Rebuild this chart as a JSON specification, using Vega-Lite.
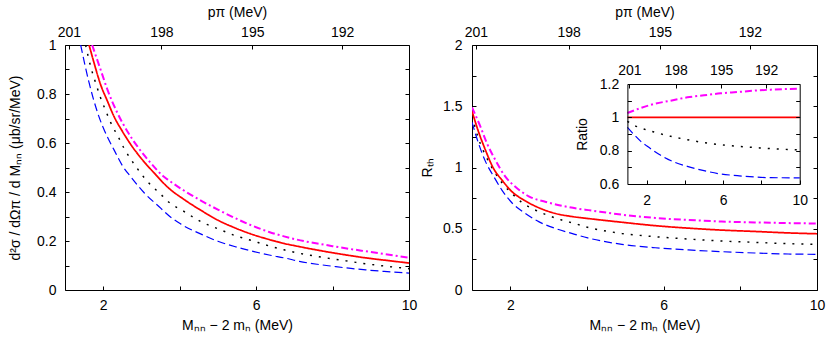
{
  "$schema": "https://vega.github.io/schema/vega-lite/v6.json",
  "padding": {"left": 8, "top": 5, "right": 5, "bottom": 5},
  "background": "white",
  "bounds": "flush",
  "spacing": 63,
  "config": {
    "view": {"stroke": null},
    "font": "Liberation Sans",
    "axis": {
      "grid": false, "domainColor": "black", "tickColor": "black", "labelColor": "black", "titleColor": "black",
      "labelFont": "Liberation Sans", "titleFont": "Liberation Sans", "labelFontSize": 14, "titleFontSize": 14,
      "titleFontWeight": "normal", "tickSize": -4, "domainWidth": 1, "tickWidth": 1, "labelFlush": false, "labelOverlap": false
    }
  },
  "datasets": {
    "left": [
      {"M": 1.41, "v": 1.0, "s": "s1"}, {"M": 1.63, "v": 0.846, "s": "s1"}, {"M": 1.85, "v": 0.725, "s": "s1"}, {"M": 2.11, "v": 0.624, "s": "s1"}, {"M": 2.28, "v": 0.573, "s": "s1"}, {"M": 2.5, "v": 0.508, "s": "s1"}, {"M": 2.72, "v": 0.462, "s": "s1"}, {"M": 3.07, "v": 0.397, "s": "s1"}, {"M": 3.51, "v": 0.333, "s": "s1"}, {"M": 3.72, "v": 0.303, "s": "s1"}, {"M": 4.0, "v": 0.272, "s": "s1"}, {"M": 4.59, "v": 0.226, "s": "s1"}, {"M": 5.0, "v": 0.199, "s": "s1"}, {"M": 5.47, "v": 0.176, "s": "s1"}, {"M": 5.86, "v": 0.16, "s": "s1"}, {"M": 6.34, "v": 0.143, "s": "s1"}, {"M": 6.8, "v": 0.129, "s": "s1"}, {"M": 7.13, "v": 0.117, "s": "s1"}, {"M": 7.6, "v": 0.105, "s": "s1"}, {"M": 8.0, "v": 0.097, "s": "s1"}, {"M": 8.48, "v": 0.088, "s": "s1"}, {"M": 8.87, "v": 0.082, "s": "s1"}, {"M": 9.35, "v": 0.076, "s": "s1"}, {"M": 10.0, "v": 0.069, "s": "s1"},
      {"M": 1.54, "v": 1.0, "s": "s2"}, {"M": 1.67, "v": 0.913, "s": "s2"}, {"M": 1.8, "v": 0.846, "s": "s2"}, {"M": 1.93, "v": 0.785, "s": "s2"}, {"M": 2.07, "v": 0.73, "s": "s2"}, {"M": 2.2, "v": 0.682, "s": "s2"}, {"M": 2.41, "v": 0.62, "s": "s2"}, {"M": 2.54, "v": 0.58, "s": "s2"}, {"M": 2.85, "v": 0.505, "s": "s2"}, {"M": 3.15, "v": 0.444, "s": "s2"}, {"M": 3.51, "v": 0.39, "s": "s2"}, {"M": 3.72, "v": 0.358, "s": "s2"}, {"M": 4.12, "v": 0.32, "s": "s2"}, {"M": 4.59, "v": 0.276, "s": "s2"}, {"M": 5.0, "v": 0.25, "s": "s2"}, {"M": 5.47, "v": 0.221, "s": "s2"}, {"M": 5.86, "v": 0.203, "s": "s2"}, {"M": 6.34, "v": 0.18, "s": "s2"}, {"M": 6.73, "v": 0.164, "s": "s2"}, {"M": 7.13, "v": 0.15, "s": "s2"}, {"M": 7.6, "v": 0.137, "s": "s2"}, {"M": 8.0, "v": 0.127, "s": "s2"}, {"M": 8.48, "v": 0.116, "s": "s2"}, {"M": 8.87, "v": 0.107, "s": "s2"}, {"M": 9.35, "v": 0.098, "s": "s2"}, {"M": 10.0, "v": 0.087, "s": "s2"},
      {"M": 1.63, "v": 1.0, "s": "s3"}, {"M": 1.76, "v": 0.927, "s": "s3"}, {"M": 1.93, "v": 0.839, "s": "s3"}, {"M": 2.11, "v": 0.771, "s": "s3"}, {"M": 2.28, "v": 0.709, "s": "s3"}, {"M": 2.5, "v": 0.648, "s": "s3"}, {"M": 2.72, "v": 0.594, "s": "s3"}, {"M": 2.98, "v": 0.54, "s": "s3"}, {"M": 3.33, "v": 0.478, "s": "s3"}, {"M": 3.72, "v": 0.415, "s": "s3"}, {"M": 4.12, "v": 0.369, "s": "s3"}, {"M": 4.59, "v": 0.322, "s": "s3"}, {"M": 5.0, "v": 0.285, "s": "s3"}, {"M": 5.47, "v": 0.252, "s": "s3"}, {"M": 5.86, "v": 0.229, "s": "s3"}, {"M": 6.34, "v": 0.206, "s": "s3"}, {"M": 6.73, "v": 0.19, "s": "s3"}, {"M": 7.13, "v": 0.177, "s": "s3"}, {"M": 7.6, "v": 0.163, "s": "s3"}, {"M": 8.0, "v": 0.152, "s": "s3"}, {"M": 8.48, "v": 0.14, "s": "s3"}, {"M": 8.87, "v": 0.131, "s": "s3"}, {"M": 9.35, "v": 0.122, "s": "s3"}, {"M": 10.0, "v": 0.11, "s": "s3"},
      {"M": 1.71, "v": 1.0, "s": "s4"}, {"M": 1.93, "v": 0.9, "s": "s4"}, {"M": 2.11, "v": 0.818, "s": "s4"}, {"M": 2.37, "v": 0.723, "s": "s4"}, {"M": 2.63, "v": 0.648, "s": "s4"}, {"M": 2.89, "v": 0.587, "s": "s4"}, {"M": 3.24, "v": 0.519, "s": "s4"}, {"M": 3.59, "v": 0.462, "s": "s4"}, {"M": 3.72, "v": 0.447, "s": "s4"}, {"M": 4.12, "v": 0.405, "s": "s4"}, {"M": 4.59, "v": 0.362, "s": "s4"}, {"M": 5.0, "v": 0.328, "s": "s4"}, {"M": 5.47, "v": 0.292, "s": "s4"}, {"M": 5.86, "v": 0.265, "s": "s4"}, {"M": 6.34, "v": 0.237, "s": "s4"}, {"M": 6.73, "v": 0.219, "s": "s4"}, {"M": 7.3, "v": 0.198, "s": "s4"}, {"M": 7.6, "v": 0.19, "s": "s4"}, {"M": 8.0, "v": 0.179, "s": "s4"}, {"M": 8.48, "v": 0.167, "s": "s4"}, {"M": 8.87, "v": 0.158, "s": "s4"}, {"M": 9.35, "v": 0.147, "s": "s4"}, {"M": 10.0, "v": 0.132, "s": "s4"}
    ],
    "right": [
      {"M": 1.0, "v": 1.37, "s": "s1"}, {"M": 1.17, "v": 1.197, "s": "s1"}, {"M": 1.35, "v": 1.05, "s": "s1"}, {"M": 1.56, "v": 0.93, "s": "s1"}, {"M": 1.78, "v": 0.816, "s": "s1"}, {"M": 2.04, "v": 0.712, "s": "s1"}, {"M": 2.39, "v": 0.626, "s": "s1"}, {"M": 2.74, "v": 0.558, "s": "s1"}, {"M": 3.17, "v": 0.503, "s": "s1"}, {"M": 3.6, "v": 0.462, "s": "s1"}, {"M": 4.02, "v": 0.425, "s": "s1"}, {"M": 4.91, "v": 0.373, "s": "s1"}, {"M": 5.78, "v": 0.345, "s": "s1"}, {"M": 6.64, "v": 0.327, "s": "s1"}, {"M": 7.51, "v": 0.313, "s": "s1"}, {"M": 8.38, "v": 0.302, "s": "s1"}, {"M": 9.25, "v": 0.294, "s": "s1"}, {"M": 10.0, "v": 0.291, "s": "s1"},
      {"M": 1.0, "v": 1.42, "s": "s2"}, {"M": 1.17, "v": 1.235, "s": "s2"}, {"M": 1.39, "v": 1.075, "s": "s2"}, {"M": 1.61, "v": 0.952, "s": "s2"}, {"M": 1.83, "v": 0.857, "s": "s2"}, {"M": 2.04, "v": 0.789, "s": "s2"}, {"M": 2.3, "v": 0.715, "s": "s2"}, {"M": 2.65, "v": 0.653, "s": "s2"}, {"M": 3.0, "v": 0.607, "s": "s2"}, {"M": 3.34, "v": 0.571, "s": "s2"}, {"M": 3.69, "v": 0.542, "s": "s2"}, {"M": 4.04, "v": 0.51, "s": "s2"}, {"M": 4.91, "v": 0.462, "s": "s2"}, {"M": 5.78, "v": 0.435, "s": "s2"}, {"M": 6.64, "v": 0.416, "s": "s2"}, {"M": 7.51, "v": 0.4, "s": "s2"}, {"M": 8.38, "v": 0.389, "s": "s2"}, {"M": 9.25, "v": 0.378, "s": "s2"}, {"M": 10.0, "v": 0.373, "s": "s2"},
      {"M": 1.0, "v": 1.46, "s": "s3"}, {"M": 1.17, "v": 1.292, "s": "s3"}, {"M": 1.35, "v": 1.143, "s": "s3"}, {"M": 1.56, "v": 0.993, "s": "s3"}, {"M": 1.78, "v": 0.898, "s": "s3"}, {"M": 2.04, "v": 0.803, "s": "s3"}, {"M": 2.35, "v": 0.735, "s": "s3"}, {"M": 2.74, "v": 0.672, "s": "s3"}, {"M": 3.17, "v": 0.625, "s": "s3"}, {"M": 3.6, "v": 0.6, "s": "s3"}, {"M": 4.04, "v": 0.583, "s": "s3"}, {"M": 4.91, "v": 0.553, "s": "s3"}, {"M": 5.78, "v": 0.525, "s": "s3"}, {"M": 6.64, "v": 0.505, "s": "s3"}, {"M": 7.51, "v": 0.489, "s": "s3"}, {"M": 8.38, "v": 0.478, "s": "s3"}, {"M": 9.25, "v": 0.466, "s": "s3"}, {"M": 10.0, "v": 0.459, "s": "s3"},
      {"M": 1.0, "v": 1.49, "s": "s4"}, {"M": 1.22, "v": 1.333, "s": "s4"}, {"M": 1.39, "v": 1.197, "s": "s4"}, {"M": 1.61, "v": 1.061, "s": "s4"}, {"M": 1.87, "v": 0.925, "s": "s4"}, {"M": 2.13, "v": 0.843, "s": "s4"}, {"M": 2.48, "v": 0.765, "s": "s4"}, {"M": 2.91, "v": 0.72, "s": "s4"}, {"M": 3.34, "v": 0.688, "s": "s4"}, {"M": 3.78, "v": 0.663, "s": "s4"}, {"M": 4.04, "v": 0.652, "s": "s4"}, {"M": 4.91, "v": 0.615, "s": "s4"}, {"M": 5.78, "v": 0.588, "s": "s4"}, {"M": 6.64, "v": 0.572, "s": "s4"}, {"M": 7.51, "v": 0.559, "s": "s4"}, {"M": 8.38, "v": 0.552, "s": "s4"}, {"M": 9.25, "v": 0.546, "s": "s4"}, {"M": 10.0, "v": 0.543, "s": "s4"}
    ],
    "ratio": [
      {"M": 1.0, "v": 0.94, "s": "s1"}, {"M": 1.35, "v": 0.896, "s": "s1"}, {"M": 1.7, "v": 0.856, "s": "s1"}, {"M": 2.04, "v": 0.826, "s": "s1"}, {"M": 2.74, "v": 0.772, "s": "s1"}, {"M": 3.43, "v": 0.732, "s": "s1"}, {"M": 4.13, "v": 0.706, "s": "s1"}, {"M": 5.0, "v": 0.68, "s": "s1"}, {"M": 5.87, "v": 0.66, "s": "s1"}, {"M": 6.75, "v": 0.65, "s": "s1"}, {"M": 7.62, "v": 0.642, "s": "s1"}, {"M": 8.49, "v": 0.638, "s": "s1"}, {"M": 10.0, "v": 0.637, "s": "s1"},
      {"M": 1.0, "v": 0.976, "s": "s2"}, {"M": 1.35, "v": 0.952, "s": "s2"}, {"M": 1.7, "v": 0.936, "s": "s2"}, {"M": 2.39, "v": 0.912, "s": "s2"}, {"M": 3.26, "v": 0.886, "s": "s2"}, {"M": 4.13, "v": 0.866, "s": "s2"}, {"M": 5.0, "v": 0.848, "s": "s2"}, {"M": 5.87, "v": 0.836, "s": "s2"}, {"M": 6.75, "v": 0.826, "s": "s2"}, {"M": 7.62, "v": 0.819, "s": "s2"}, {"M": 8.49, "v": 0.812, "s": "s2"}, {"M": 10.0, "v": 0.805, "s": "s2"},
      {"M": 1.0, "v": 1.0, "s": "s3"}, {"M": 10.0, "v": 1.0, "s": "s3"},
      {"M": 1.0, "v": 1.026, "s": "s4"}, {"M": 1.7, "v": 1.056, "s": "s4"}, {"M": 2.39, "v": 1.08, "s": "s4"}, {"M": 3.26, "v": 1.1, "s": "s4"}, {"M": 4.13, "v": 1.12, "s": "s4"}, {"M": 5.0, "v": 1.132, "s": "s4"}, {"M": 5.87, "v": 1.144, "s": "s4"}, {"M": 6.75, "v": 1.152, "s": "s4"}, {"M": 7.62, "v": 1.16, "s": "s4"}, {"M": 8.49, "v": 1.166, "s": "s4"}, {"M": 10.0, "v": 1.172, "s": "s4"}
    ]
  },
  "hconcat": [
    {
      "width": 344, "height": 245,
      "data": {"name": "left"},
      "layer": [
        {
          "mark": {"type": "line", "interpolate": "monotone", "clip": true},
          "encoding": {
            "x": {"field": "M", "type": "quantitative", "scale": {"domain": [1, 10], "nice": false, "zero": false},
              "axis": {"orient": "bottom", "values": [2, 4, 6, 8, 10], "labelExpr": "datum.value == 4 || datum.value == 8 ? '' : format(datum.value, '~g')", "labelPadding": 12.5, "title": "Mₙₙ − 2 mₙ (MeV)", "titlePadding": 6}},
            "y": {"field": "v", "type": "quantitative", "scale": {"domain": [0, 1], "nice": false, "zero": false},
              "axis": {"orient": "left", "values": [0, 0.1, 0.2, 0.3, 0.4, 0.5, 0.6, 0.7, 0.8, 0.9, 1.0], "labelExpr": "round(datum.value*10) % 2 == 0 ? format(datum.value, '~g') : ''", "labelPadding": 13, "title": "d²σ / dΩπ / d Mₙₙ (μb/sr/MeV)", "titlePadding": 14}},
            "color": {"field": "s", "type": "nominal", "scale": {"domain": ["s1", "s2", "s3", "s4"], "range": ["#0000ff", "#000000", "#ff0000", "#ff00ff"]}, "legend": null},
            "strokeDash": {"field": "s", "type": "nominal", "scale": {"domain": ["s1", "s2", "s3", "s4"], "range": [[8, 4], [2, 7], [1, 0], [7, 3, 2, 3]]}, "legend": null},
            "strokeWidth": {"field": "s", "type": "nominal", "scale": {"domain": ["s1", "s2", "s3", "s4"], "range": [1.2, 2, 1.1, 1.2]}, "legend": null}
          }
        },
        {
          "mark": {"type": "point", "opacity": 0},
          "encoding": {
            "x": {"field": "M", "type": "quantitative",
              "axis": {"orient": "top", "values": [1.1, 3.52, 5.9, 8.25], "labelExpr": "datum.value < 2 ? '201' : datum.value < 4 ? '198' : datum.value < 7 ? '195' : '192'", "labelPadding": 9.3, "title": "pπ (MeV)", "titlePadding": 6}},
            "y": {"field": "v", "type": "quantitative",
              "axis": {"orient": "right", "values": [0, 0.1, 0.2, 0.3, 0.4, 0.5, 0.6, 0.7, 0.8, 0.9, 1.0], "labels": false, "title": null}}
          }
        }
      ],
      "resolve": {"axis": {"x": "independent", "y": "independent"}}
    },
    {
      "width": 345, "height": 245,
      "layer": [
        {
          "data": {"name": "right"},
          "mark": {"type": "line", "interpolate": "monotone", "clip": true},
          "encoding": {
            "x": {"field": "M", "type": "quantitative", "scale": {"domain": [1, 10], "nice": false, "zero": false},
              "axis": {"orient": "bottom", "values": [2, 4, 6, 8, 10], "labelExpr": "datum.value == 4 || datum.value == 8 ? '' : format(datum.value, '~g')", "labelPadding": 12.5, "title": "Mₙₙ − 2 mₙ (MeV)", "titlePadding": 6}},
            "y": {"field": "v", "type": "quantitative", "scale": {"domain": [0, 2], "nice": false, "zero": false},
              "axis": {"orient": "left", "values": [0, 0.25, 0.5, 0.75, 1, 1.25, 1.5, 1.75, 2], "labelExpr": "round(datum.value*4) % 2 == 0 ? format(datum.value, '~g') : ''", "labelPadding": 14, "title": "Rₜₕ", "titlePadding": 8}},
            "color": {"field": "s", "type": "nominal", "legend": null},
            "strokeDash": {"field": "s", "type": "nominal", "legend": null},
            "strokeWidth": {"field": "s", "type": "nominal", "legend": null}
          }
        },
        {
          "data": {"name": "right"},
          "mark": {"type": "point", "opacity": 0},
          "encoding": {
            "x": {"field": "M", "type": "quantitative", "scale": {"domain": [1, 10], "nice": false, "zero": false},
              "axis": {"orient": "top", "values": [1.1, 3.52, 5.9, 8.25], "labelExpr": "datum.value < 2 ? '201' : datum.value < 4 ? '198' : datum.value < 7 ? '195' : '192'", "labelPadding": 9.3, "title": "pπ (MeV)", "titlePadding": 6}},
            "y": {"field": "v", "type": "quantitative", "scale": {"domain": [0, 2], "nice": false, "zero": false},
              "axis": {"orient": "right", "values": [0, 0.25, 0.5, 0.75, 1, 1.25, 1.5, 1.75, 2], "labels": false, "title": null}}
          }
        },
        {
          "data": {"name": "ratio"},
          "mark": {"type": "line", "interpolate": "monotone"},
          "encoding": {
            "x": {"field": "M", "type": "quantitative", "scale": {"domain": [1, 10], "nice": false, "zero": false, "range": [155.4, 327.7]},
              "axis": {"orient": "bottom", "offset": -106, "zindex": 1, "values": [2, 4, 6, 8, 10], "labelExpr": "datum.value == 4 || datum.value == 8 ? '' : format(datum.value, '~g')", "labelPadding": 13, "title": null}},
            "y": {"field": "v", "type": "quantitative", "scale": {"domain": [0.6, 1.2], "nice": false, "zero": false, "range": [139, 39]},
              "axis": {"orient": "left", "offset": -155.4, "zindex": 1, "values": [0.6, 0.7, 0.8, 0.9, 1.0, 1.1, 1.2], "labelExpr": "round(datum.value*10) % 2 == 0 ? format(datum.value, '~g') : ''", "labelPadding": 12.7, "title": "Ratio", "titlePadding": 10}},
            "color": {"field": "s", "type": "nominal", "legend": null},
            "strokeDash": {"field": "s", "type": "nominal", "legend": null},
            "strokeWidth": {"field": "s", "type": "nominal", "legend": null}
          }
        },
        {
          "data": {"name": "ratio"},
          "mark": {"type": "point", "opacity": 0},
          "encoding": {
            "x": {"field": "M", "type": "quantitative", "scale": {"domain": [1, 10], "nice": false, "zero": false, "range": [155.4, 327.7]},
              "axis": {"orient": "top", "offset": -39, "zindex": 1, "values": [1.1, 3.52, 5.9, 8.25], "labelExpr": "datum.value < 2 ? '201' : datum.value < 4 ? '198' : datum.value < 7 ? '195' : '192'", "labelPadding": 10.3, "title": null}},
            "y": {"field": "v", "type": "quantitative", "scale": {"domain": [0.6, 1.2], "nice": false, "zero": false, "range": [139, 39]},
              "axis": {"orient": "right", "offset": -17.3, "zindex": 1, "values": [0.6, 0.7, 0.8, 0.9, 1.0, 1.1, 1.2], "labels": false, "title": null}}
          }
        }
      ],
      "resolve": {"scale": {"x": "independent", "y": "independent"}, "axis": {"x": "independent", "y": "independent"}}
    }
  ]
}
